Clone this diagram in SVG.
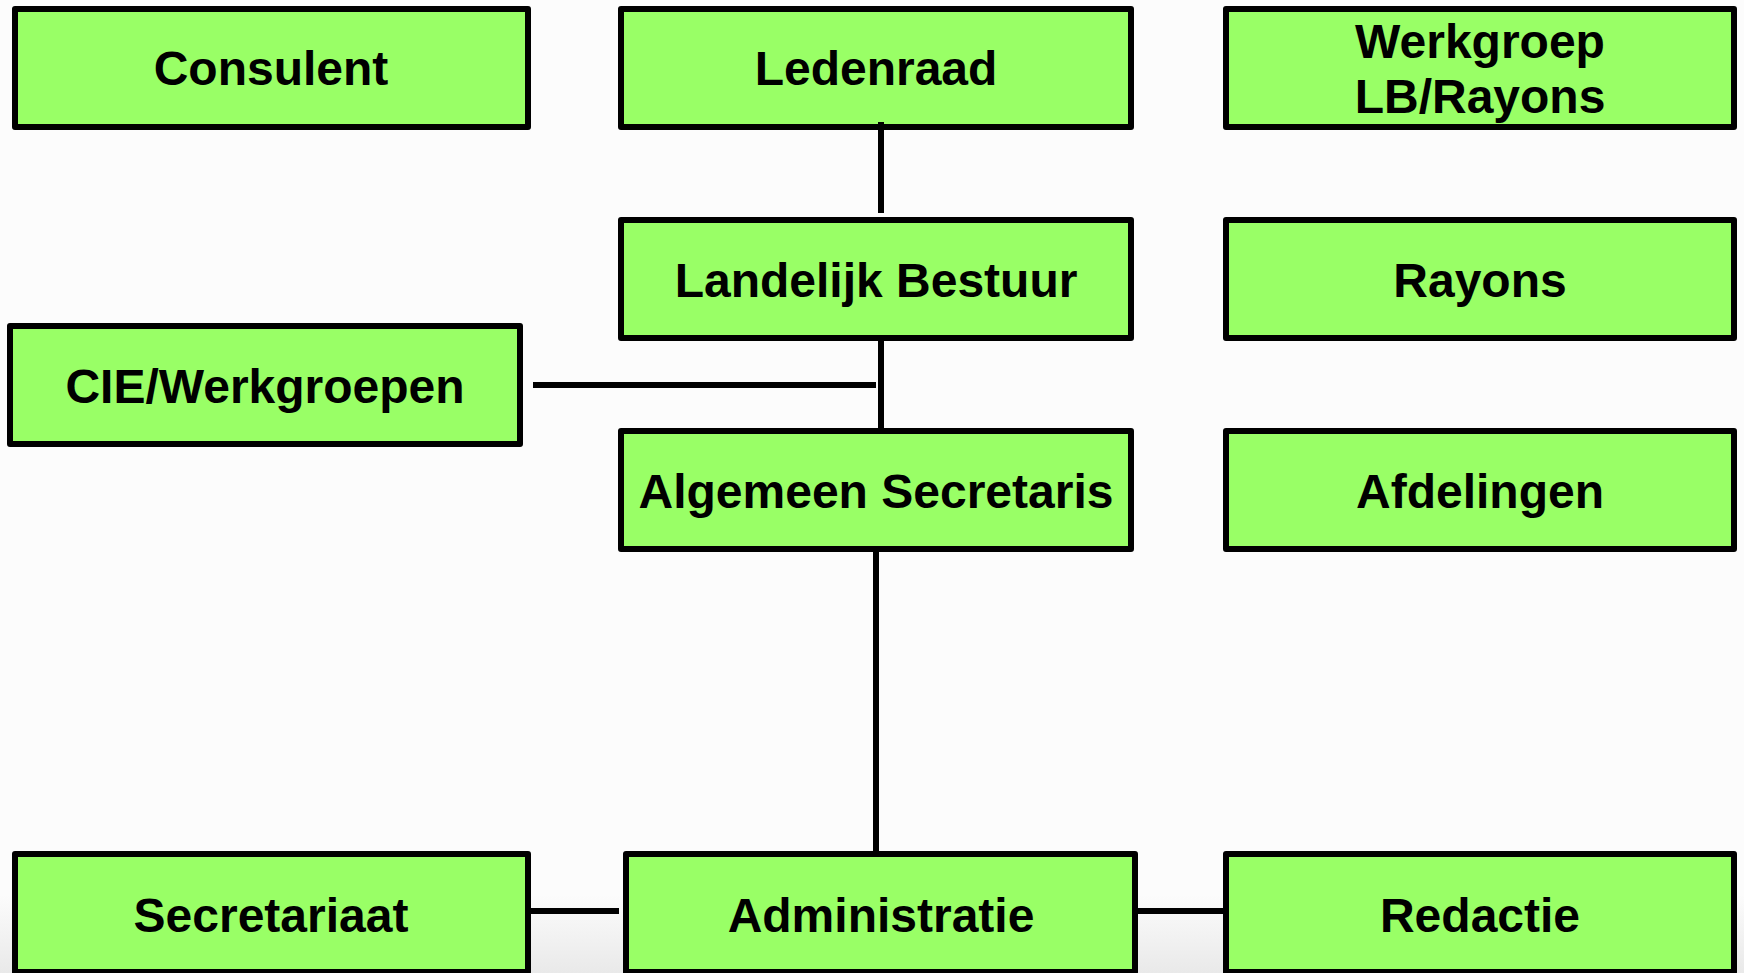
<svg xmlns="http://www.w3.org/2000/svg" width="1744" height="973" viewBox="0 0 1744 973">
<style>
.box{fill:#99ff66;stroke:#000;stroke-width:6;stroke-linejoin:round}
.lbl{font-family:"Liberation Sans",Arial,sans-serif;font-weight:bold;font-size:48px;fill:#000;text-anchor:middle}
.ln{stroke:#000;stroke-width:6;fill:none}
</style>
<defs>
<linearGradient id="bg" x1="0" y1="0" x2="0" y2="1">
<stop offset="0" stop-color="#fcfcfc"/>
<stop offset="1" stop-color="#e9e9e9"/>
</linearGradient>
</defs>
<rect x="0" y="0" width="1744" height="973" fill="#fcfcfc"/>
<rect x="0" y="895" width="1744" height="78" fill="url(#bg)"/>
<g id="consulent"><rect class="box" x="15" y="9" width="513" height="118"/><text class="lbl" x="271" y="85">Consulent</text></g>
<g id="ledenraad"><rect class="box" x="621" y="9" width="510" height="118"/><text class="lbl" x="876" y="85">Ledenraad</text></g>
<g id="werkgroep"><rect class="box" x="1226" y="9" width="508" height="118"/><text class="lbl" x="1480" y="58">Werkgroep</text><text class="lbl" x="1480" y="113">LB/Rayons</text></g>
<g id="landelijk-bestuur"><rect class="box" x="621" y="220" width="510" height="118"/><text class="lbl" x="876" y="297">Landelijk Bestuur</text></g>
<g id="rayons"><rect class="box" x="1226" y="220" width="508" height="118"/><text class="lbl" x="1480" y="297">Rayons</text></g>
<g id="cie-werkgroepen"><rect class="box" x="10" y="326" width="510" height="118"/><text class="lbl" x="265" y="403">CIE/Werkgroepen</text></g>
<g id="algemeen-secretaris"><rect class="box" x="621" y="431" width="510" height="118"/><text class="lbl" x="876" y="508">Algemeen Secretaris</text></g>
<g id="afdelingen"><rect class="box" x="1226" y="431" width="508" height="118"/><text class="lbl" x="1480" y="508">Afdelingen</text></g>
<g id="secretariaat"><rect class="box" x="15" y="854" width="513" height="118"/><text class="lbl" x="271" y="932">Secretariaat</text></g>
<g id="administratie"><rect class="box" x="626" y="854" width="509" height="118"/><text class="lbl" x="881" y="932">Administratie</text></g>
<g id="redactie"><rect class="box" x="1226" y="854" width="508" height="118"/><text class="lbl" x="1480" y="932">Redactie</text></g>
<g id="connectors">
<line class="ln" x1="881" y1="122" x2="881" y2="213"/>
<line class="ln" x1="881" y1="339" x2="881" y2="430"/>
<line class="ln" x1="533" y1="385" x2="876" y2="385"/>
<line class="ln" x1="876" y1="552" x2="876" y2="853"/>
<line class="ln" x1="531" y1="911" x2="619" y2="911"/>
<line class="ln" x1="1138" y1="911" x2="1229" y2="911"/>
</g>
</svg>
